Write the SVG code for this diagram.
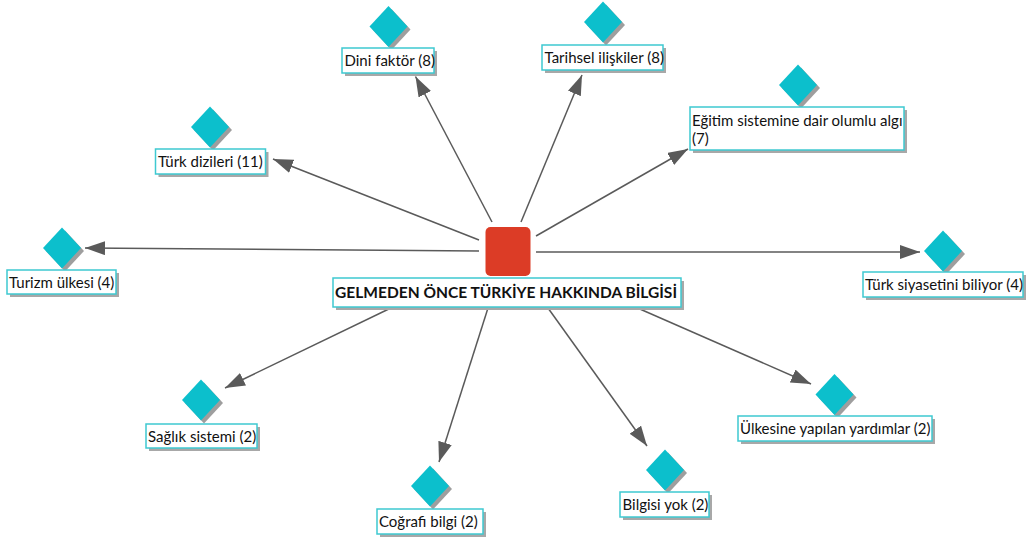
<svg xmlns="http://www.w3.org/2000/svg" width="1026" height="540" viewBox="0 0 1026 540">
<style>
  .lbl{font-family:Lato,"Open Sans",sans-serif;font-size:15px;fill:#111}
  .ttl{font-family:Lato,"Open Sans",sans-serif;font-size:16px;font-weight:bold;fill:#111}
  .box{fill:#fff;stroke:#3EC9D1;stroke-width:1.5}
  .shd{fill:#A8A8A8}
  .dia{fill:#0CBFCC}
  .dsh{fill:#9E9E9E}
  .con{stroke:#5A5A5A;stroke-width:1.5;fill:none;marker-end:url(#ah)}
</style>
<defs>
  <marker id="ah" markerUnits="userSpaceOnUse" markerWidth="21" markerHeight="15" refX="20" refY="7" orient="auto">
    <path d="M0,0 L20,7 L0,14 z" fill="#5A5A5A"/>
  </marker>
  <polygon id="dm" points="0,-20.5 19,0 0,20.5 -19,0"/>
</defs>
<rect width="1026" height="540" fill="#fff"/>
<g id="connectors">
  <line class="con" x1="492" y1="222" x2="415.5" y2="76.5"/>
  <line class="con" x1="521" y1="222" x2="582" y2="75"/>
  <line class="con" x1="479" y1="240" x2="273" y2="159"/>
  <line class="con" x1="536" y1="236" x2="688" y2="149"/>
  <line class="con" x1="479" y1="251" x2="85" y2="248"/>
  <line class="con" x1="536" y1="252" x2="920" y2="252"/>
  <line class="con" x1="395" y1="306" x2="225" y2="388"/>
  <line class="con" x1="488" y1="308" x2="439" y2="462"/>
  <line class="con" x1="548" y1="308" x2="647" y2="446"/>
  <line class="con" x1="633" y1="306" x2="811" y2="384"/>
</g>
<g id="center">
  <rect x="485.5" y="227" width="45" height="49" rx="5" fill="#DC3C26"/>
  <rect class="shd" x="336" y="281" width="348" height="29"/>
  <rect class="box" x="333" y="278" width="348" height="29"/>
  <text class="ttl" x="335" y="298" textLength="342" lengthAdjust="spacingAndGlyphs">GELMEDEN ÖNCE TÜRKİYE HAKKINDA BİLGİSİ</text>
</g>
<g id="dini">
  <use href="#dm" class="dsh" x="391.5" y="29.5"/>
  <use href="#dm" class="dia" x="388.5" y="26.5"/>
  <rect class="shd" x="345" y="51" width="92" height="25"/>
  <rect class="box" x="342" y="48" width="92" height="25"/>
  <text class="lbl" x="344.5" y="66">Dini faktör (8)</text>
</g>
<g id="tarihsel">
  <use href="#dm" class="dsh" x="606" y="25"/>
  <use href="#dm" class="dia" x="603" y="22"/>
  <rect class="shd" x="545" y="48" width="121" height="25"/>
  <rect class="box" x="542" y="45" width="121" height="25"/>
  <text class="lbl" x="544.5" y="63">Tarihsel ilişkiler (8)</text>
</g>
<g id="dizileri">
  <use href="#dm" class="dsh" x="213" y="130"/>
  <use href="#dm" class="dia" x="210" y="127"/>
  <rect class="shd" x="158.5" y="152" width="110" height="25"/>
  <rect class="box" x="155.5" y="149" width="110" height="25"/>
  <text class="lbl" x="158" y="167">Türk dizileri (11)</text>
</g>
<g id="egitim">
  <use href="#dm" class="dsh" x="801" y="88"/>
  <use href="#dm" class="dia" x="798" y="85"/>
  <rect class="shd" x="693" y="110" width="214" height="43"/>
  <rect class="box" x="690" y="107" width="214" height="43"/>
  <text class="lbl" x="692" y="125.5">Eğitim sistemine dair olumlu algı</text>
  <text class="lbl" x="692" y="144">(7)</text>
</g>
<g id="turizm">
  <use href="#dm" class="dsh" x="65" y="251"/>
  <use href="#dm" class="dia" x="62" y="248"/>
  <rect class="shd" x="10" y="273" width="109" height="24"/>
  <rect class="box" x="7" y="270" width="109" height="24"/>
  <text class="lbl" x="9" y="288">Turizm ülkesi (4)</text>
</g>
<g id="siyaset">
  <use href="#dm" class="dsh" x="946" y="254"/>
  <use href="#dm" class="dia" x="943" y="251"/>
  <rect class="shd" x="866" y="275" width="160" height="25"/>
  <rect class="box" x="863" y="272" width="160" height="25"/>
  <text class="lbl" x="865" y="290">Türk siyasetini biliyor (4)</text>
</g>
<g id="saglik">
  <use href="#dm" class="dsh" x="204" y="403"/>
  <use href="#dm" class="dia" x="201" y="400"/>
  <rect class="shd" x="149" y="427" width="111" height="24"/>
  <rect class="box" x="146" y="424" width="111" height="24"/>
  <text class="lbl" x="148" y="442">Sağlık sistemi (2)</text>
</g>
<g id="cografi">
  <use href="#dm" class="dsh" x="433" y="489"/>
  <use href="#dm" class="dia" x="430" y="486"/>
  <rect class="shd" x="380" y="512" width="106" height="25"/>
  <rect class="box" x="377" y="509" width="106" height="25"/>
  <text class="lbl" x="379" y="527">Coğrafi bilgi (2)</text>
</g>
<g id="bilgisi">
  <use href="#dm" class="dsh" x="668" y="473"/>
  <use href="#dm" class="dia" x="665" y="470"/>
  <rect class="shd" x="623" y="495" width="89" height="25"/>
  <rect class="box" x="620" y="492" width="89" height="25"/>
  <text class="lbl" x="622.5" y="510">Bilgisi yok (2)</text>
</g>
<g id="ulkesine">
  <use href="#dm" class="dsh" x="837.5" y="397.5"/>
  <use href="#dm" class="dia" x="834.5" y="394.5"/>
  <rect class="shd" x="741" y="419" width="194" height="25"/>
  <rect class="box" x="738" y="416" width="194" height="25"/>
  <text class="lbl" x="740" y="434">Ülkesine yapılan yardımlar (2)</text>
</g>
</svg>
